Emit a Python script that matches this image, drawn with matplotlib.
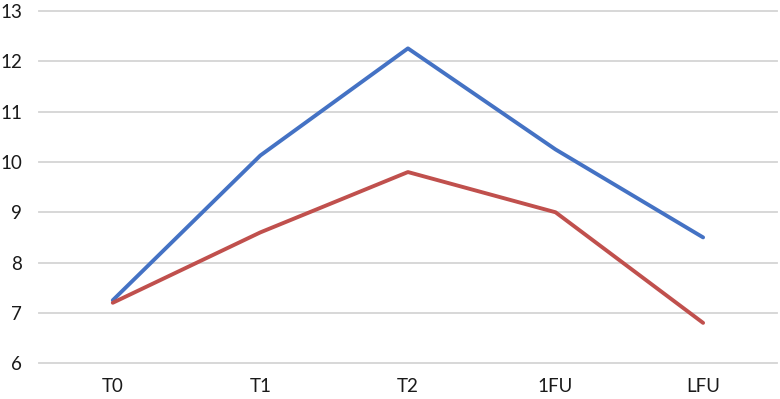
import matplotlib.pyplot as plt

categories = ["T0", "T1", "T2", "1FU", "LFU"]
blue_vals = [7.25, 10.13, 12.26, 10.25, 8.5]
red_vals = [7.2, 8.6, 9.8, 9.0, 6.8]
y_ticks = [6, 7, 8, 9, 10, 11, 12, 13]


def main():
    plt.rcParams['font.family'] = ['Lato', 'DejaVu Sans']
    fig = plt.figure(figsize=(7.8, 3.99), dpi=100)
    ax = fig.add_axes([0.05, 0.09, 0.946, 0.882])

    x = list(range(len(categories)))
    ax.plot(x, blue_vals, color="#4472C4", linewidth=2.8, solid_capstyle="round", zorder=3)
    ax.plot(x, red_vals, color="#C0504D", linewidth=2.8, solid_capstyle="round", zorder=3)

    ax.set_xlim(-0.5, len(categories) - 0.5)
    ax.set_ylim(6, 13)
    ax.set_yticks(y_ticks)
    ax.set_xticks(x)
    ax.set_xticklabels(categories)
    ax.yaxis.grid(True, color="#D4D4D4", linewidth=1.3)
    for gl in ax.get_ygridlines():
        gl.set_clip_on(False)
    ax.set_axisbelow(True)
    for s in ax.spines.values():
        s.set_visible(False)
    ax.tick_params(axis="both", length=0, labelsize=13.5, colors="#1a1a1a")
    ax.tick_params(axis="y", pad=12)
    ax.tick_params(axis="x", pad=11)

    fig.savefig("out.png", dpi=100)


if __name__ == "__main__":
    main()
